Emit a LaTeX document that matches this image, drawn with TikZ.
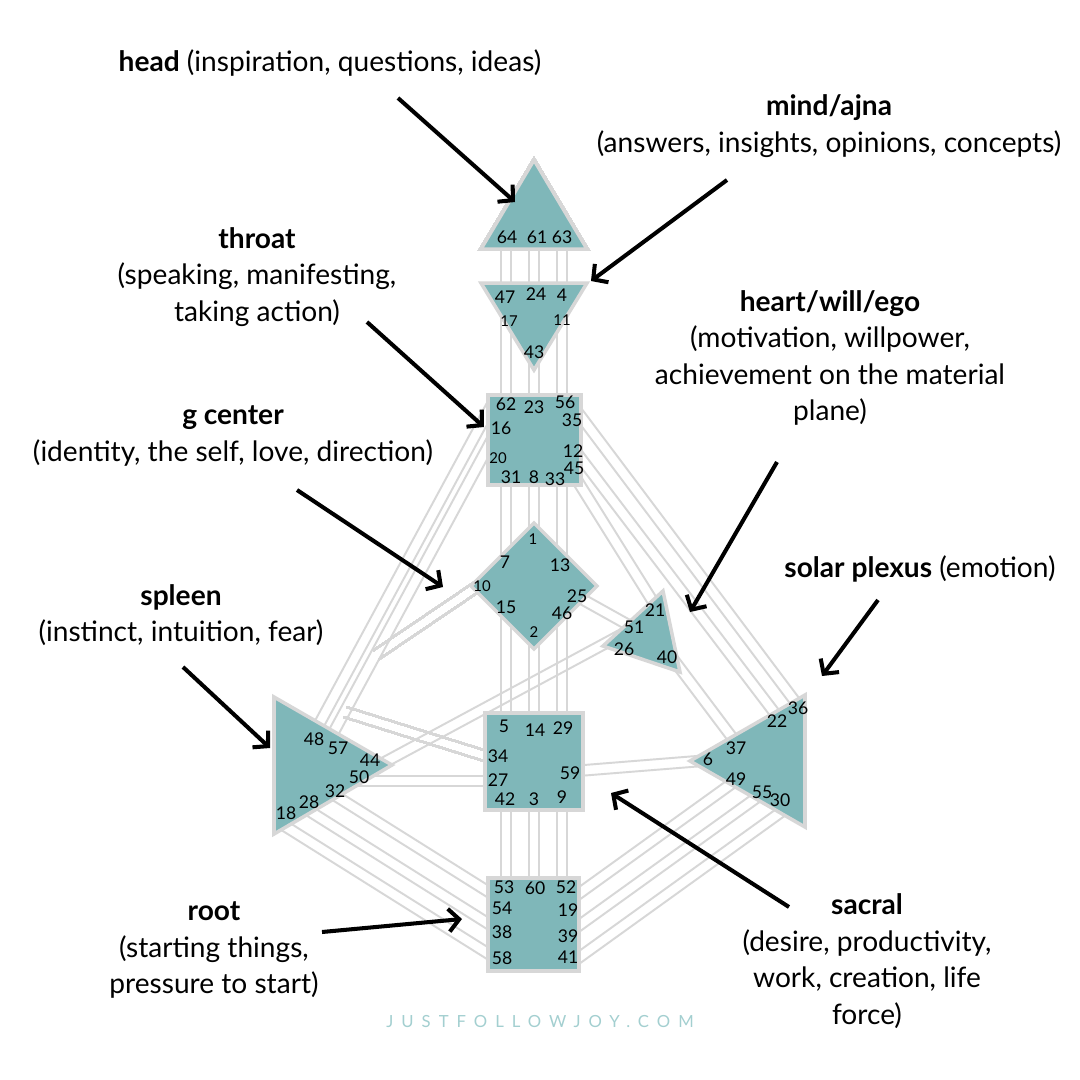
\documentclass[tikz,border=0pt]{standalone}
\usepackage{fontspec}
\setmainfont{Lato}
\usetikzlibrary{calc,arrows.meta}
\definecolor{centrefill}{HTML}{7FB7B9}
\definecolor{rim}{HTML}{D7D7D7}
\definecolor{weblink}{HTML}{A3CFD0}
\newcommand\chan[2]{\draw[chan] ($(#1)!3pt!90:(#2)$) -- ($(#2)!3pt!-90:(#1)$);
  \draw[chan] ($(#1)!3pt!-90:(#2)$) -- ($(#2)!3pt!90:(#1)$);}

\begin{document}
\begin{tikzpicture}[x=0.02cm, y=-0.02cm,
  chan/.style={draw=rim, line width=1.1pt},
  centre/.style={fill=centrefill, draw=rim, line width=2pt},
  gate/.style={inner sep=0pt, font=\fontsize{10}{10}\selectfont},
  smallgate/.style={inner sep=0pt, font=\fontsize{8.5}{8.5}\selectfont},
  note/.style={inner sep=0pt, align=center, font=\fontsize{16}{20.8}\selectfont},
  pointer/.style={line width=2.3pt, -{Straight Barb[length=6pt, width=13pt]}}]
\fill[white] (0,0) rectangle (1080,1080);
\foreach \n/\x/\y in {64/506/240, 61/534/240, 63/562/240, 47/506/290, 24/534/290, 4/562/290, 17/506/310, 43/534/355, 11/562/310,
  62/506/405, 23/534/405, 56/562/405, 31/506/475, 8/534/475, 33/562/475, 7/506/570, 1/534/540, 13/562/570, 15/506/600, 2/534/630, 46/562/600,
  5/506/725, 14/534/725, 29/562/725, 42/506/800, 3/534/800, 9/562/800, 53/506/890, 60/534/890, 52/562/890,
  16/495/399, 48/310/741, 20/497/430, 57/330/739, 10/478/586, 34/495/759, 50/355/781, 27/495/781, 44/372/769, 26/630/630,
  25/580/598, 51/632/627, 45/570/469, 21/655/605, 35/570/402, 36/800/708, 12/570/444, 22/780/720, 40/670/655, 37/740/748,
  59/575/771, 6/700/761, 32/320/786, 54/500/899, 28/295/802, 38/500/931, 18/280/823, 58/500/961,
  19/570/900, 49/745/774, 39/570/932, 55/770/788, 41/570/964, 30/795/802}
  \coordinate (k\n) at (\x,\y);
\coordinate (ja) at (376,655);
\coordinate (jb) at (345,712);
\foreach \a/\b in {64/47, 61/24, 63/4, 17/62, 43/23, 11/56, 31/7, 8/1, 33/13, 15/5, 2/14, 46/29, 42/53, 3/60, 9/52,
  16/48, 20/57, 45/21, 35/36, 12/22, 40/37, 25/51, 26/44, 50/27, 59/6, 32/54, 28/38, 18/58, 19/49, 39/55, 41/30}
  \chan{k\a}{k\b}
\chan{k10}{ja}
\chan{k34}{jb}
\filldraw[centre] (534,160) -- (587,249) -- (481,249) -- cycle;
\filldraw[centre] (481,283) -- (587,283) -- (534,370) -- cycle;
\filldraw[centre] (488,395) rectangle (581,485);
\filldraw[centre] (534,523) -- (597,586) -- (534,649) -- (471,586) -- cycle;
\filldraw[centre] (663,591) -- (680,672) -- (603,646) -- cycle;
\filldraw[centre] (274,697) -- (392,765) -- (274,834) -- cycle;
\filldraw[centre] (485,713) rectangle (583,810);
\filldraw[centre] (805,695) -- (805,827) -- (690,761) -- cycle;
\filldraw[centre] (488,878) rectangle (579,971);
\foreach \n/\x/\y in {64/507/237, 61/537/237, 63/562/237, 47/505/297, 24/536/294, 4/562/295, 43/534/352,
  62/506/404, 23/534/407, 56/565/402, 35/572/420, 16/501/428, 12/573/451, 45/574/468, 31/511/477, 8/534/477, 33/555/479,
  7/505/562, 13/560/565, 25/577/596, 15/506/607, 46/562/613, 21/655/610, 51/634/627, 26/624/649, 40/667/657,
  48/314/739, 57/338/748, 44/370/760, 50/359/777, 32/335/791, 28/309/802, 18/286/813,
  5/504/726, 14/535/730, 29/563/728, 34/498/756, 59/570/773, 27/498/780, 42/505/799, 3/534/799, 9/562/797,
  36/798/708, 22/777/721, 37/736/748, 6/708/759, 49/736/779, 55/762/792, 30/780/800,
  53/504/887, 60/535/888, 52/566/887, 54/502/908, 19/568/910, 38/502/932, 39/568/936, 58/502/958, 41/568/957}
  \node[gate] (g\n) at (\x,\y) {\n};
\foreach \n/\x/\y in {17/509/321, 11/562/320, 20/498/458, 1/533/539, 10/482/586, 2/534/632}
  \node[smallgate] (g\n) at (\x,\y) {\n};
\node[note] (headnote) at (330,63) {\textbf{head} (inspiration, questions, ideas)};
\node[note] (ajnanote) at (829,126) {\textbf{mind/ajna}\\(answers, insights, opinions, concepts)};
\node[note] (throatnote) at (257,277) {\textbf{throat}\\(speaking, manifesting,\\taking action)};
\node[note] (gnote) at (233,436) {\textbf{g center}\\(identity, the self, love, direction)};
\node[note] (heartnote) at (830,358) {\textbf{heart/will/ego}\\(motivation, willpower,\\achievement on the material\\plane)};
\node[note] (spnote) at (920,569) {\textbf{solar plexus} (emotion)};
\node[note] (spleennote) at (181,615) {\textbf{spleen}\\(instinct, intuition, fear)};
\node[note] (rootnote) at (214,950) {\textbf{root}\\(starting things,\\pressure to start)};
\node[note] (sacralnote) at (867,961) {\textbf{sacral}\\(desire, productivity,\\work, creation, life\\force)};
\node[text=weblink, font=\fontsize{9.5}{10}\selectfont\addfontfeatures{LetterSpace=48}] (site) at (540,1022) {JUSTFOLLOWJOY.COM};
\foreach \c/\x/\y/\u/\v in {head/398/98/515/202, ajna/727/180/591/281, throat/367/322/484/427, g/297/490/443/587,
  heart/777/462/690/612, sp/878/600/822/676, spleen/183/667/270/748, root/322/932/462/919, sacral/789/907/611/793}
  {\coordinate (\c from) at (\x,\y); \coordinate (\c to) at (\u,\v); \draw[pointer] (\c from) -- (\c to);}
\end{tikzpicture}
\end{document}
